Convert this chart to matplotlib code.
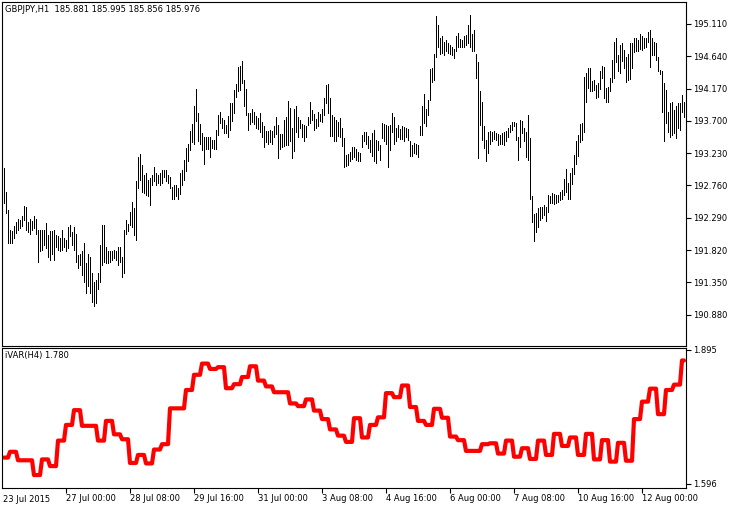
import matplotlib
matplotlib.use("Agg")
import matplotlib.pyplot as plt
import numpy as np
import pandas as pd

# ---------------- data ----------------
symbol_title = "GBPJPY,H1  185.881 185.995 185.856 185.976"
indicator_title = "iVAR(H4) 1.780"
first_bar_time = "2015-07-23 17:00"
last_bar_time = "2015-08-12 21:00"

bar_high = [
    193.01, 192.67, 192.40, 192.11, 192.10, 192.17, 192.23, 192.27, 192.26, 192.31,
    192.46, 192.45, 192.23, 192.27, 192.25, 192.32, 192.27, 192.11, 192.11, 192.11,
    192.11, 192.22, 192.04, 192.10, 192.10, 192.11, 192.04, 192.02, 191.99, 192.11,
    191.99, 191.97, 192.16, 192.19, 192.09, 192.16, 192.06, 191.75, 191.77, 191.80,
    191.92, 191.63, 191.76, 191.72, 191.48, 191.35, 191.39, 191.48, 191.90, 192.19,
    192.19, 191.87, 191.80, 191.81, 191.81, 191.82, 191.80, 191.87, 191.87, 191.72,
    192.11, 192.26, 192.20, 192.38, 192.52, 192.43, 192.83, 193.18, 193.22, 193.06,
    192.91, 192.94, 192.84, 192.87, 192.91, 193.03, 192.94, 192.91, 192.94, 192.99,
    192.99, 192.98, 192.91, 192.89, 192.74, 192.77, 192.76, 192.73, 192.94, 192.99,
    193.13, 193.31, 193.37, 193.55, 193.66, 193.92, 194.16, 193.81, 193.66, 193.53,
    193.47, 193.47, 193.47, 193.46, 193.42, 193.42, 193.57, 193.79, 193.83, 193.74,
    193.71, 193.64, 193.77, 193.96, 193.96, 194.15, 194.23, 194.49, 194.50, 194.57,
    194.30, 194.17, 193.81, 193.82, 193.88, 193.83, 193.77, 193.74, 193.81, 193.69,
    193.62, 193.56, 193.55, 193.57, 193.55, 193.63, 193.75, 193.64, 193.51, 193.51,
    193.71, 193.75, 193.99, 193.89, 193.59, 193.87, 193.91, 193.76, 193.71, 193.66,
    193.64, 193.63, 193.75, 193.98, 193.86, 193.80, 193.73, 193.83, 193.80, 193.88,
    194.03, 194.22, 194.23, 194.03, 193.79, 193.76, 193.71, 193.69, 193.74, 193.59,
    193.45, 193.20, 193.22, 193.25, 193.32, 193.32, 193.29, 193.24, 193.23, 193.50,
    193.54, 193.54, 193.48, 193.42, 193.53, 193.57, 193.42, 193.41, 193.35, 193.67,
    193.65, 193.64, 193.63, 193.64, 193.82, 193.76, 193.59, 193.64, 193.58, 193.62,
    193.61, 193.59, 193.58, 193.40, 193.35, 193.38, 193.37, 193.35, 193.63, 193.91,
    194.09, 193.88, 194.00, 194.45, 194.47, 194.67, 195.22, 195.10, 194.90, 194.93,
    194.85, 194.87, 194.83, 194.80, 194.78, 194.74, 194.93, 194.98, 194.89, 194.88,
    194.94, 194.95, 195.10, 195.24, 194.96, 195.02, 194.68, 194.56, 194.13, 193.98,
    193.62, 193.42, 193.54, 193.56, 193.54, 193.56, 193.53, 193.51, 193.50, 193.53,
    193.54, 193.56, 193.59, 193.64, 193.69, 193.69, 193.67, 193.47, 193.71, 193.70,
    193.59, 193.54, 193.78, 193.45, 192.60, 192.34, 192.36, 192.43, 192.44, 192.45,
    192.48, 192.44, 192.62, 192.61, 192.65, 192.63, 192.62, 192.62, 192.67, 192.70,
    192.85, 193.00, 192.79, 192.94, 193.01, 193.20, 193.40, 193.50, 193.65, 193.67,
    194.34, 194.39, 194.47, 194.47, 194.28, 194.30, 194.22, 194.25, 194.42, 194.50,
    194.49, 194.18, 194.20, 194.32, 194.59, 194.85, 194.90, 194.66, 194.80, 194.83,
    194.73, 194.63, 194.67, 194.83, 194.83, 194.90, 194.91, 194.88, 194.96, 194.93,
    194.90, 194.91, 195.00, 195.02, 194.90, 194.85, 194.83, 194.63, 194.44, 194.42,
    194.25, 194.15, 193.83, 193.96, 193.98, 193.86, 193.91, 193.96, 193.96, 194.08,
    193.98,
]

bar_low = [
    192.50, 192.36, 191.92, 191.92, 191.93, 191.99, 192.07, 192.11, 192.14, 192.17,
    192.26, 192.11, 192.09, 192.06, 192.11, 192.14, 192.06, 191.64, 191.80, 191.82,
    191.90, 191.85, 191.72, 191.68, 191.77, 191.68, 191.87, 191.82, 191.80, 191.82,
    191.87, 191.80, 191.85, 192.03, 191.89, 191.82, 191.65, 191.56, 191.60, 191.46,
    191.36, 191.19, 191.29, 191.19, 191.07, 191.00, 191.05, 191.26, 191.36, 191.60,
    191.65, 191.63, 191.63, 191.65, 191.68, 191.70, 191.68, 191.60, 191.65, 191.43,
    191.48, 192.06, 192.10, 192.19, 192.16, 192.04, 191.96, 192.72, 192.84, 192.67,
    192.65, 192.62, 192.60, 192.48, 192.77, 192.82, 192.77, 192.79, 192.77, 192.79,
    192.89, 192.82, 192.79, 192.72, 192.57, 192.57, 192.60, 192.56, 192.63, 192.76,
    192.84, 192.97, 193.11, 193.28, 193.39, 193.36, 193.70, 193.40, 193.37, 193.28,
    193.07, 193.29, 193.29, 193.18, 193.30, 193.29, 193.29, 193.50, 193.67, 193.60,
    193.53, 193.53, 193.47, 193.57, 193.70, 193.81, 194.05, 194.13, 194.15, 194.25,
    193.91, 193.79, 193.57, 193.66, 193.69, 193.65, 193.60, 193.58, 193.54, 193.47,
    193.32, 193.39, 193.36, 193.39, 193.36, 193.47, 193.51, 193.16, 193.29, 193.32,
    193.34, 193.35, 193.35, 193.40, 193.16, 193.26, 193.54, 193.47, 193.59, 193.46,
    193.40, 193.47, 193.64, 193.67, 193.71, 193.57, 193.59, 193.62, 193.70, 193.69,
    193.79, 193.96, 193.81, 193.48, 193.48, 193.40, 193.40, 193.48, 193.47, 193.34,
    193.03, 193.04, 193.06, 193.11, 193.14, 193.17, 193.13, 193.11, 193.11, 193.32,
    193.40, 193.37, 193.30, 193.25, 193.19, 193.11, 193.08, 193.27, 193.13, 193.45,
    193.40, 193.37, 193.03, 193.28, 193.54, 193.37, 193.41, 193.47, 193.43, 193.43,
    193.41, 193.47, 193.42, 193.19, 193.19, 193.23, 193.22, 193.18, 193.50, 193.50,
    193.67, 193.62, 193.79, 194.00, 194.27, 194.30, 194.63, 194.78, 194.68, 194.69,
    194.66, 194.71, 194.69, 194.68, 194.66, 194.62, 194.71, 194.77, 194.78, 194.77,
    194.77, 194.80, 194.83, 194.77, 194.72, 194.71, 194.32, 193.16, 193.64, 193.42,
    193.30, 193.11, 193.23, 193.37, 193.41, 193.43, 193.42, 193.35, 193.37, 193.37,
    193.35, 193.41, 193.47, 193.54, 193.57, 193.62, 193.42, 193.13, 193.32, 193.52,
    193.40, 193.18, 193.13, 192.57, 192.23, 191.95, 192.09, 192.16, 192.26, 192.29,
    192.33, 192.24, 192.37, 192.50, 192.50, 192.49, 192.50, 192.52, 192.55, 192.57,
    192.62, 192.67, 192.57, 192.57, 192.78, 192.92, 193.07, 193.19, 193.39, 193.42,
    193.54, 193.97, 194.18, 194.13, 194.13, 194.15, 194.03, 194.05, 194.17, 194.32,
    194.04, 193.97, 193.97, 194.13, 194.27, 194.33, 194.56, 194.42, 194.39, 194.57,
    194.47, 194.26, 194.30, 194.31, 194.47, 194.70, 194.71, 194.71, 194.75, 194.73,
    194.76, 194.78, 194.85, 194.49, 194.66, 194.66, 194.59, 194.42, 194.38, 193.83,
    193.40, 193.67, 193.54, 193.47, 193.50, 193.52, 193.45, 193.59, 193.57, 193.83,
    193.76,
]

# iVAR values, one per H4 block (held on every H1 bar of the block)
ivar_h4 = [
    1.654, 1.667, 1.648, 1.648, 1.615, 1.650, 1.635, 1.692, 1.727, 1.760,
    1.725, 1.725, 1.692, 1.736, 1.706, 1.695, 1.642, 1.660, 1.641, 1.672,
    1.684, 1.764, 1.764, 1.805, 1.839, 1.864, 1.852, 1.856, 1.809, 1.818,
    1.834, 1.858, 1.826, 1.813, 1.800, 1.800, 1.775, 1.769, 1.784, 1.759,
    1.740, 1.717, 1.703, 1.689, 1.742, 1.699, 1.727, 1.744, 1.798, 1.789,
    1.815, 1.767, 1.736, 1.727, 1.763, 1.743, 1.701, 1.693, 1.669, 1.669,
    1.684, 1.686, 1.663, 1.692, 1.656, 1.675, 1.651, 1.692, 1.660, 1.707,
    1.680, 1.699, 1.660, 1.707, 1.650, 1.693, 1.645, 1.687, 1.647, 1.740,
    1.779, 1.808, 1.751, 1.805, 1.817, 1.871,
]

price_ticks = [195.110, 194.640, 194.170, 193.700, 193.230,
               192.760, 192.290, 191.820, 191.350, 190.880]
ivar_ticks = [1.895, 1.596]
price_range = (190.424, 195.430)
ivar_range = (1.5861, 1.8988)
label_every = 32  # bars between time labels

# ---------------- time axis ----------------
all_hours = pd.date_range(first_bar_time, last_bar_time, freq="h")
times = all_hours[all_hours.dayofweek < 5]
n = min(len(times), len(bar_high), len(bar_low))
times = times[:n]
idx = np.arange(n)
highs = np.array(bar_high[:n])
lows = np.array(bar_low[:n])

block_codes = pd.factorize(times.floor("4h"))[0]
block_codes = np.minimum(block_codes, len(ivar_h4) - 1)
ivar_bar = np.array(ivar_h4)[block_codes]

# ---------------- figure ----------------
W, H = 738, 508
fig = plt.figure(figsize=(W / 100, H / 100), dpi=100)
fig.patch.set_facecolor("white")
FS = 6
plt.rcParams["font.family"] = ["DejaVu Sans"]

ax = fig.add_axes([2 / W, (H - 346) / H, 684 / W, 344 / H])
ax2 = fig.add_axes([2 / W, (H - 488) / H, 684 / W, 140 / H])

for a in (ax, ax2):
    for s in a.spines.values():
        s.set_color("black")
        s.set_linewidth(0.8)
    a.set_facecolor("white")
    a.yaxis.tick_right()
    a.tick_params(axis="y", direction="out", length=3.5, width=0.8,
                  pad=1.5, labelsize=FS, colors="black")
    a.set_xlim(-1, n)

# price bars (thin 1-px vertical high-low lines)
ax.vlines(idx, lows, highs, color="black", linewidth=0.45,
          antialiased=False, snap=True)
ax.set_ylim(*price_range)
ax.set_yticks(price_ticks)
ax.set_yticklabels([f"{v:.3f}" for v in price_ticks])
ax.set_xticks([])
ax.text(3 / 684, 1 - 3 / 344, symbol_title, transform=ax.transAxes,
        ha="left", va="top", fontsize=FS, color="black")

# indicator
ax2.plot(idx, ivar_bar, color="#ff0000", linewidth=3.0,
         solid_joinstyle="round", solid_capstyle="round")
ax2.set_ylim(*ivar_range)
ax2.set_yticks(ivar_ticks)
ax2.set_yticklabels([f"{v:.3f}" for v in ivar_ticks])
ax2.text(3 / 684, 1 - 3 / 140, indicator_title, transform=ax2.transAxes,
         ha="left", va="top", fontsize=FS, color="black")

tick_idx = list(range(label_every - 1, n, label_every))
tick_lab = [f"{times[i].day} {times[i]:%b %H:%M}" for i in tick_idx]
ax2.set_xticks(tick_idx)
ax2.set_xticklabels(tick_lab)
ax2.tick_params(axis="x", direction="out", length=3.5, width=0.8, pad=1.0,
                labelsize=FS, colors="black")
for lab in ax2.get_xticklabels():
    lab.set_ha("left")
ax2.text(0.001, -6.5 / 140, f"{times[0].day} {times[0]:%b %Y}",
         transform=ax2.transAxes, ha="left", va="top", fontsize=FS)

fig.savefig("out.png", dpi=100, facecolor="white")
